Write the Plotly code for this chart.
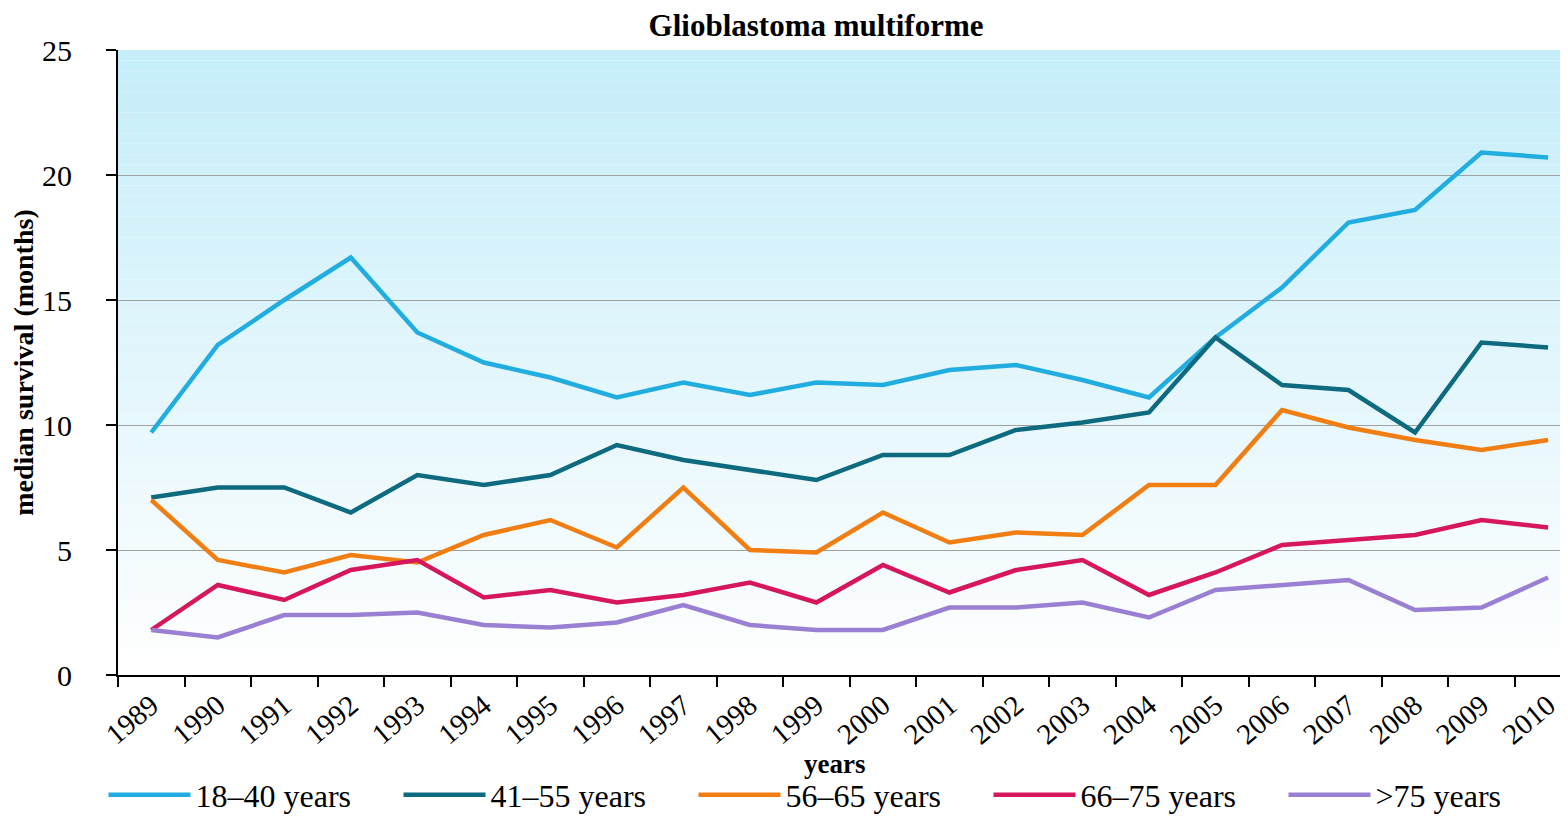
import plotly.graph_objects as go

years = [str(y) for y in range(1989, 2011)]
s18_40 = [9.7, 13.2, 15.0, 16.7, 13.7, 12.5, 11.9, 11.1, 11.7, 11.2, 11.7, 11.6, 12.2, 12.4, 11.8, 11.1, 13.5, 15.5, 18.1, 18.6, 20.9, 20.7]
s41_55 = [7.1, 7.5, 7.5, 6.5, 8.0, 7.6, 8.0, 9.2, 8.6, 8.2, 7.8, 8.8, 8.8, 9.8, 10.1, 10.5, 13.5, 11.6, 11.4, 9.7, 13.3, 13.1]
s56_65 = [7.0, 4.6, 4.1, 4.8, 4.5, 5.6, 6.2, 5.1, 7.5, 5.0, 4.9, 6.5, 5.3, 5.7, 5.6, 7.6, 7.6, 10.6, 9.9, 9.4, 9.0, 9.4]
s66_75 = [1.8, 3.6, 3.0, 4.2, 4.6, 3.1, 3.4, 2.9, 3.2, 3.7, 2.9, 4.4, 3.3, 4.2, 4.6, 3.2, 4.1, 5.2, 5.4, 5.6, 6.2, 5.9]
s75 = [1.8, 1.5, 2.4, 2.4, 2.5, 2.0, 1.9, 2.1, 2.8, 2.0, 1.8, 1.8, 2.7, 2.7, 2.9, 2.3, 3.4, 3.6, 3.8, 2.6, 2.7, 3.9]

series_names = ["18\u201340 years", "41\u201355 years", "56\u201365 years", "66\u201375 years", ">75 years"]
series_vals = [s18_40, s41_55, s56_65, s66_75, s75]
colors = ["#22ade0", "#0e6a7e", "#f07e12", "#d6175e", "#9a80d2"]

fig = go.Figure()
for name, vals, c in zip(series_names, series_vals, colors):
    fig.add_trace(go.Scatter(x=years, y=vals, mode="lines", name=name,
                             line=dict(color=c, width=4.5)))

# gradient background
n = 60
top = (198, 238, 250)
bot = (255, 255, 255)
shapes = []
for i in range(n):
    t = i / (n - 1)
    r = int(bot[0] + (top[0] - bot[0]) * t)
    g = int(bot[1] + (top[1] - bot[1]) * t)
    b = int(bot[2] + (top[2] - bot[2]) * t)
    shapes.append(dict(type="rect", xref="paper", yref="paper",
                       x0=0, x1=1, y0=i / n, y1=(i + 1) / n,
                       fillcolor=f"rgb({r},{g},{b})", line=dict(width=0),
                       layer="below"))

serif = "Liberation Serif, Times New Roman, serif"
fig.update_layout(
    width=1560, height=830,
    margin=dict(l=110, r=0, t=42, b=163, autoexpand=False),
    paper_bgcolor="white", plot_bgcolor="rgba(0,0,0,0)",
    shapes=shapes,
    font=dict(family=serif, color="black"),
    title=dict(text="<b>Glioblastoma multiforme</b>", x=0.518, xanchor="center",
               y=0.979, yanchor="middle", font=dict(size=31, family=serif)),
    xaxis=dict(type="category", range=[-0.5, 21.3], tickson="boundaries",
               ticks="outside", ticklen=10, tickcolor="black", tickwidth=2,
               showline=True, linecolor="black", linewidth=2,
               showgrid=False, tickangle=-40, tickfont=dict(size=29),
               automargin=False),
    yaxis=dict(range=[0, 25], dtick=5, ticks="outside", ticklen=10,
               tickcolor="black", tickwidth=2, ticklabelstandoff=28,
               showline=True, linecolor="black", linewidth=2,
               showgrid=True, gridcolor="#a0a0a0", gridwidth=1,
               zeroline=False, tickfont=dict(size=30), automargin=False,
               title=dict(text="<b>median survival (months)</b>", font=dict(size=28), standoff=0)),
    legend=dict(orientation="h", x=-0.01, xanchor="left",
                y=-0.148, yanchor="top",
                font=dict(size=32), itemwidth=82, entrywidth=198, bgcolor="rgba(0,0,0,0)",
                tracegroupgap=0),
    annotations=[dict(text="<b>years</b>", xref="paper", yref="paper",
                      x=0.494, y=-0.143, xanchor="center", yanchor="middle",
                      showarrow=False, font=dict(size=27, family=serif))],
)

fig.write_html("out.html")
